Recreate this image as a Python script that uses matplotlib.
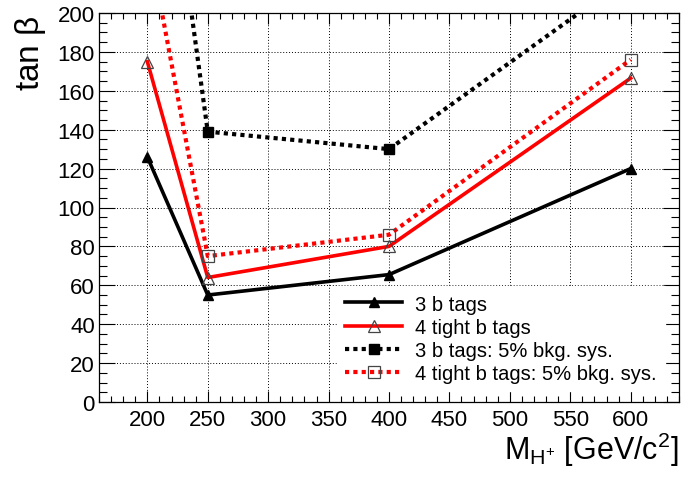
import numpy as np
import matplotlib.pyplot as plt
from matplotlib.ticker import MultipleLocator

plt.rcParams['font.family'] = ['Liberation Sans', 'DejaVu Sans']
plt.rcParams['mathtext.default'] = 'regular'

# charged Higgs masses and tan beta limits
mass = [200, 250, 400, 600]
tb_3b = [126, 55, 65.5, 120]
tb_4tight = [175, 64, 80, 166.5]
tb_3b_sys = [365, 139, 130, 219]
tb_4tight_sys = [240, 75, 86, 176]

fig = plt.figure(figsize=(6.84, 4.81), dpi=100)
ax = fig.add_axes([99 / 684, 78 / 481, 580 / 684, 389 / 481])

ax.plot(mass, tb_3b, color='black', lw=2.6, marker='^', ms=7,
        mfc='black', mec='black', label='3 b tags', zorder=4)
ax.plot(mass, tb_4tight, color='red', lw=2.6, marker='^', ms=9,
        mfc='none', mec='#444444', mew=0.9, label='4 tight b tags', zorder=4)
ax.plot(mass, tb_3b_sys, color='black', lw=3, ls=(0, (1, 1)), marker='s', ms=6.5,
        mfc='black', mec='black', label='3 b tags: 5% bkg. sys.', zorder=4)
ax.plot(mass, tb_4tight_sys, color='red', lw=3, ls=(0, (1, 1)), marker='s', ms=8,
        mfc='none', mec='#444444', mew=0.9, label='4 tight b tags: 5% bkg. sys.', zorder=4)

ax.set_xlim(160, 640)
ax.set_ylim(0, 200)
ax.yaxis.set_major_locator(MultipleLocator(20))
ax.yaxis.set_minor_locator(MultipleLocator(5))
ax.set_xticks(np.arange(200, 601, 50))
ax.set_xticks(np.arange(160, 641, 10), minor=True)

ax.tick_params(axis='both', which='both', direction='in', top=True, right=True,
               width=0.8, labelsize=16)
ax.tick_params(axis='x', which='major', length=8, pad=5)
ax.tick_params(axis='x', which='minor', length=4)
ax.tick_params(axis='y', which='major', length=11.5, pad=3)
ax.tick_params(axis='y', which='minor', length=6)
ax.grid(True, which='major', color='black', ls=(0, (1, 2)), lw=0.7)
for s in ax.spines.values():
    s.set_linewidth(0.9)

leg = ax.legend(loc='upper left', bbox_to_anchor=(0.41, 0.297), fontsize=14.5,
                handlelength=2.85, handletextpad=0.65, labelspacing=0.2,
                borderpad=0.4, borderaxespad=0, numpoints=1,
                frameon=True, fancybox=False, framealpha=1, edgecolor='white')
leg.set_zorder(5)

fig.text(679 / 684, 21 / 481, r'M$_{H^{+}}$ [GeV/c$^{2}$]', ha='right',
         va='baseline', fontsize=22)
fig.text(31 / 684, 466 / 481, r'tan $\beta$', rotation=90, ha='center',
         va='top', fontsize=24)

fig.savefig('out.png', dpi=100)
